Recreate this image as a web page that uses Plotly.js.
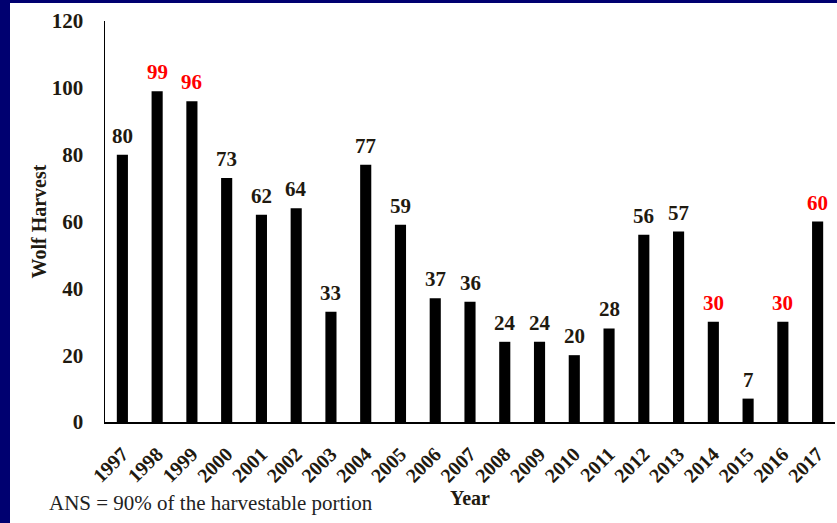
<!DOCTYPE html>
<html>
<head>
<meta charset="utf-8">
<script src="https://cdn.plot.ly/plotly-3.0.1.min.js"></script>
<style>
html,body{margin:0;padding:0;background:#000070;width:837px;height:523px;overflow:hidden;}
#chart{position:absolute;left:10px;top:3px;width:827px;height:520px;background:#fff;}
</style>
</head>
<body>
<div id="chart"></div>
<script>
var years = ['1997','1998','1999','2000','2001','2002','2003','2004','2005','2006','2007','2008','2009','2010','2011','2012','2013','2014','2015','2016','2017'];
var harvest = [80,99,96,73,62,64,33,77,59,37,36,24,24,20,28,56,57,30,7,30,60];
var labelColors = ['#1f1a10','#ff0000','#ff0000','#1f1a10','#1f1a10','#1f1a10','#1f1a10','#1f1a10','#1f1a10','#1f1a10','#1f1a10','#1f1a10','#1f1a10','#1f1a10','#1f1a10','#1f1a10','#1f1a10','#ff0000','#1f1a10','#ff0000','#ff0000'];
var yTicks = [0,20,40,60,80,100,120];

var txt = '#1f1a10';
var serif = 'Liberation Serif, Times New Roman, serif';

var trace = {
  type: 'bar',
  x: years,
  y: harvest,
  marker: {color: '#000000'},
  width: 0.32,
  hoverinfo: 'none'
};

var annos = years.map(function (yr, i) {
  return {
    x: i, y: harvest[i], xref: 'x', yref: 'y',
    text: String(harvest[i]), showarrow: false,
    xanchor: 'center', yanchor: 'bottom', yshift: 5,
    font: {family: serif, size: 21, color: labelColors[i], weight: 'bold'}
  };
});
annos.push({
  xref: 'paper', yref: 'paper', x: -0.0795, y: -0.202,
  xanchor: 'left', yanchor: 'middle', showarrow: false,
  text: 'ANS = 90% of the harvestable portion',
  font: {family: serif, size: 21, color: '#222222'}
});
annos.push({
  xref: 'paper', yref: 'paper', x: 0.5, y: -0.19,
  xanchor: 'center', yanchor: 'middle', showarrow: false,
  text: 'Year',
  font: {family: serif, size: 20, color: txt, weight: 'bold'}
});

var layout = {
  width: 827, height: 520,
  margin: {l: 95, r: 2, t: 18, b: 101},
  paper_bgcolor: '#ffffff',
  plot_bgcolor: '#ffffff',
  showlegend: false,
  xaxis: {
    type: 'category',
    range: [-0.5, 20.5],
    tickangle: -45,
    tickfont: {family: serif, size: 20, color: txt, weight: 'bold'},
    ticklabelstandoff: 11,
    showline: true, linecolor: '#000', linewidth: 1.5,
    showgrid: false, zeroline: false, ticks: ''
  },
  yaxis: {
    range: [0, 120],
    tickvals: yTicks,
    ticktext: yTicks.map(String),
    tickfont: {family: serif, size: 21, color: txt, weight: 'bold'},
    showline: true, linecolor: '#000', linewidth: 1.5,
    showgrid: false, zeroline: false, ticks: '',
    ticklabelstandoff: 16,
    title: {text: 'Wolf Harvest', font: {family: serif, size: 20, color: txt, weight: 'bold'}, standoff: 0}
  },
  annotations: annos
};

Plotly.newPlot('chart', [trace], layout, {displayModeBar: false, staticPlot: true});
</script>
</body>
</html>
